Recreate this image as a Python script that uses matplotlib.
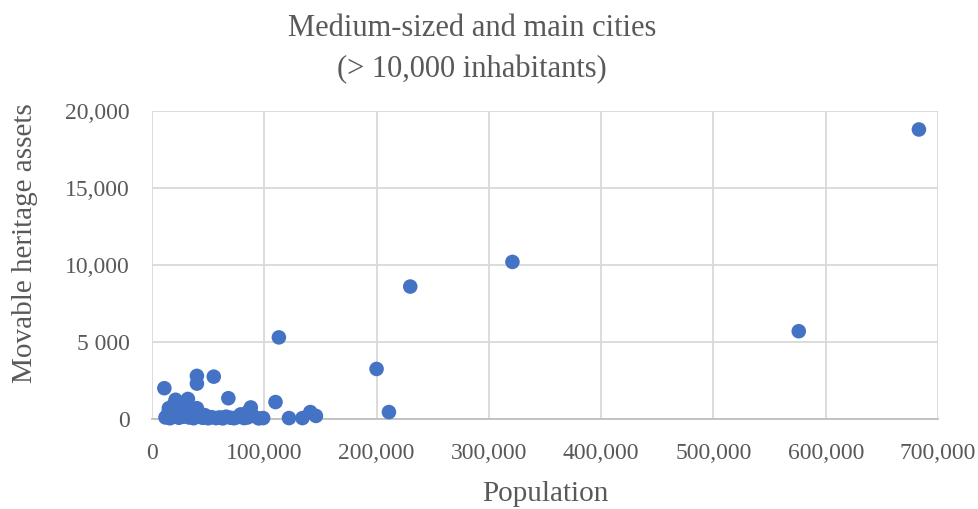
import matplotlib
matplotlib.use("Agg")
import matplotlib.pyplot as plt
from matplotlib.ticker import FixedLocator

population = [683000, 576000, 321000, 230000, 200000, 211000, 113000, 110000,
              122000, 134000, 141000, 146000,
              40000, 40000, 55000, 11000, 68000, 88000, 32000, 21000, 40000,
              12000, 14000, 16000, 18000, 20000, 22000, 24000, 26000, 28000,
              30000, 33000, 35000, 37000, 42000, 45000, 48000, 50000, 53000,
              57000, 60000, 63000, 66000, 70000, 73000, 76000, 79000, 82000,
              85000, 90000, 95000, 99000, 15000, 19000, 25000, 31000, 38000,
              47000, 62000, 80000, 86000, 27000, 17000, 34000]
heritage = [18800, 5700, 10200, 8600, 3250, 450, 5300, 1100,
            60, 60, 450, 200,
            2800, 2300, 2750, 2000, 1350, 750, 1300, 1250, 700,
            100, 300, 50, 500, 200, 400, 80, 600, 150,
            350, 100, 250, 50, 300, 80, 150, 50, 120,
            60, 100, 40, 150, 80, 50, 120, 300, 60,
            100, 200, 40, 60, 700, 900, 800, 400, 500,
            250, 80, 200, 500, 200, 150, 600]

x_ticks = [0, 100000, 200000, 300000, 400000, 500000, 600000, 700000]
x_tick_labels = ["0", "100,000", "200,000", "300,000", "400,000", "500,000",
                 "600,000", "700,000"]
y_ticks = [0, 5000, 10000, 15000, 20000]
y_tick_labels = ["0", "5 000", "10,000", "15,000", "20,000"]

plt.rcParams['font.family'] = ['Liberation Serif', 'DejaVu Serif']
text_color = "#595959"

fig = plt.figure(figsize=(9.79, 5.09), dpi=100)
ax = fig.add_axes([152/979, 1-419/509, (938-152)/979, (419-111)/509])

ax.scatter(population, heritage, s=110, color="#4472C4", zorder=3,
           edgecolors="none", clip_on=False)

ax.set_xlim(0, 700000)
ax.set_ylim(0, 20000)
ax.xaxis.set_major_locator(FixedLocator(x_ticks))
ax.yaxis.set_major_locator(FixedLocator(y_ticks))
ax.set_xticklabels(x_tick_labels)
ax.set_yticklabels(y_tick_labels)
ax.tick_params(length=0, labelsize=17, colors=text_color)
ax.tick_params(axis="x", pad=17)
ax.tick_params(axis="y", pad=16)
ax.grid(True, color="#d9d9d9", linewidth=1.3, zorder=0)
for s in ["top", "right", "left"]:
    ax.spines[s].set_visible(False)
ax.spines["bottom"].set_color("#bfbfbf")
ax.spines["bottom"].set_linewidth(1.3)

fig.text(472/979, 1-28/509, "Medium-sized and main cities", ha="center",
         va="center", fontsize=22, color=text_color)
fig.text(472/979, 1-70/509, "(> 10,000 inhabitants)", ha="center",
         va="center", fontsize=22, color=text_color)
fig.text(545/979, 1-494/509, "Population", ha="center", va="center",
         fontsize=21, color=text_color)
fig.text(25/979, 1-243/509, "Movable heritage assets", ha="center",
         va="center", rotation=90, fontsize=21, color=text_color)

fig.savefig("out.png", dpi=100)
